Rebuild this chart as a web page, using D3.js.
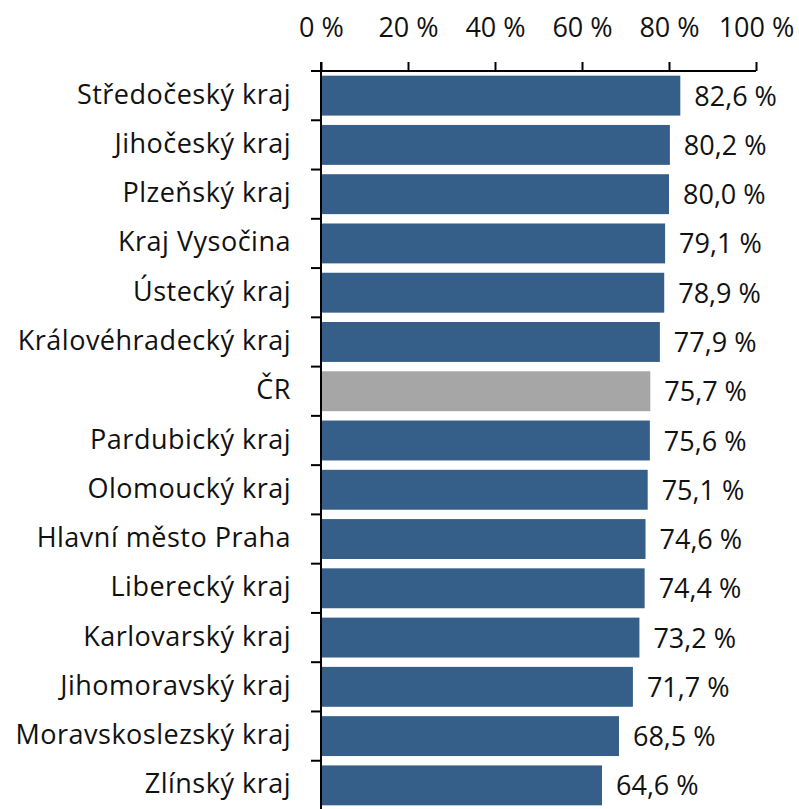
<!DOCTYPE html>
<html lang="cs">
<head>
<meta charset="utf-8">
<title>Kraje</title>
<script src="https://cdn.jsdelivr.net/npm/d3@7"></script>
<style>
  body { margin: 0; background: #fff; }
  svg text { font-family: 'Open Sans', sans-serif; fill: #111; }
</style>
</head>
<body>
<div id="chart"></div>
<script>

// data
var regions = ['Středočeský kraj', 'Jihočeský kraj', 'Plzeňský kraj', 'Kraj Vysočina',
  'Ústecký kraj', 'Královéhradecký kraj', 'ČR', 'Pardubický kraj', 'Olomoucký kraj',
  'Hlavní město Praha', 'Liberecký kraj', 'Karlovarský kraj', 'Jihomoravský kraj',
  'Moravskoslezský kraj', 'Zlínský kraj'];
var shares = [82.6, 80.2, 80.0, 79.1, 78.9, 77.9, 75.7, 75.6, 75.1, 74.6, 74.4, 73.2, 71.7, 68.5, 64.6];
var ticks = [0, 20, 40, 60, 80, 100];

var width = 799, height = 809;
var margin = { top: 71, left: 321, right: 43, bottom: 0 };
var fontSize = 27;

var svg = d3.select('#chart').append('svg')
    .attr('width', width)
    .attr('height', height);

var x = d3.scaleLinear()
    .domain([0, 100])
    .range([margin.left, width - margin.right]);

var y = d3.scaleBand()
    .domain(regions)
    .range([margin.top, height + 1])
    .paddingInner(0.19)
    .paddingOuter(0.095);

var fmt = function(v) { return d3.format('.1f')(v).replace('.', ',') + ' %'; };

// bars
svg.selectAll('rect.bar')
  .data(regions)
  .join('rect')
    .attr('class', 'bar')
    .attr('x', x(0))
    .attr('y', function(d) { return y(d); })
    .attr('width', function(d, i) { return x(shares[i]) - x(0); })
    .attr('height', y.bandwidth())
    .attr('fill', function(d) { return d === 'ČR' ? '#A6A6A6' : '#355E88'; });

// value labels
svg.selectAll('text.val')
  .data(regions)
  .join('text')
    .attr('class', 'val')
    .attr('x', function(d, i) { return x(shares[i]) + 14; })
    .attr('y', function(d) { return y(d) + y.bandwidth() / 2 + 10; })
    .attr('font-size', fontSize)
    .text(function(d, i) { return fmt(shares[i]); });

// category labels
svg.selectAll('text.cat')
  .data(regions)
  .join('text')
    .attr('class', 'cat')
    .attr('x', 291)
    .attr('y', function(d) { return y(d) + y.bandwidth() / 2 + 8; })
    .attr('text-anchor', 'end')
    .attr('font-size', fontSize)
    .attr('letter-spacing', 0.5)
    .text(function(d) { return d; });

// top axis
var xAxis = svg.append('g')
    .attr('transform', 'translate(0,' + margin.top + ')')
    .call(d3.axisTop(x).tickValues(ticks).tickSize(9).tickPadding(25)
      .tickFormat(function(d) { return d + ' %'; }));
xAxis.select('.domain').attr('d', 'M' + (x(0) - 10) + ',0H' + x(100))
    .attr('stroke', '#000').attr('stroke-width', 2);
xAxis.selectAll('.tick line').attr('stroke', '#000').attr('stroke-width', 2);
xAxis.selectAll('.tick text')
    .attr('font-size', fontSize)
    .attr('font-family', "'Open Sans', sans-serif")
    .attr('fill', '#111');

// left axis with ticks at category boundaries
var bounds = regions.map(function(d) { return y(d) - y.step() * y.paddingInner() / 2; }).slice(1);
var left = svg.append('g');
left.append('line')
    .attr('x1', x(0)).attr('x2', x(0))
    .attr('y1', margin.top - 9).attr('y2', height)
    .attr('stroke', '#000').attr('stroke-width', 2);
left.selectAll('line.tk')
  .data(bounds)
  .join('line')
    .attr('class', 'tk')
    .attr('x1', x(0) - 10).attr('x2', x(0))
    .attr('y1', function(d) { return d; })
    .attr('y2', function(d) { return d; })
    .attr('stroke', '#000').attr('stroke-width', 2);

</script>
</body>
</html>
